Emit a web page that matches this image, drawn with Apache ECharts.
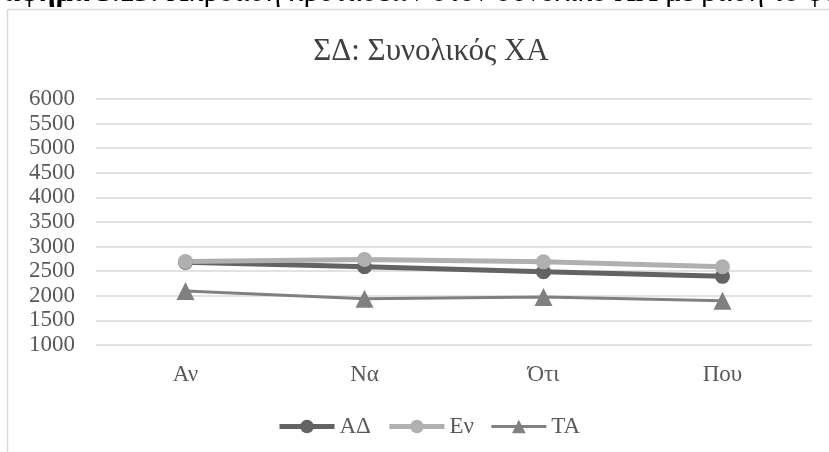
<!DOCTYPE html>
<html>
<head>
<meta charset="utf-8">
<script src="https://cdn.jsdelivr.net/npm/echarts@6/dist/echarts.min.js"></script>
<style>
  html, body { margin: 0; padding: 0; background: #fff; }
  #chart { width: 829px; height: 452px; }
</style>
</head>
<body>
<div id="chart"></div>
<script>
// categories and values
const categories = ["Αν", "Να", "Ότι", "Που"];
const seriesNames = ["ΑΔ", "Εν", "ΤΑ"];
const valuesAD = [2680, 2590, 2490, 2395];
const valuesEn = [2695, 2740, 2690, 2590];
const valuesTA = [2100, 1940, 1975, 1900];
const yTicks = { min: 1000, max: 6000, step: 500 };

const serif = "'Liberation Serif', 'DejaVu Serif', serif";
const labelGray = "#595959";
const colors = ["#636363", "#b0b0b0", "#808080"];
const widths = [5, 5, 3];

const chart = echarts.init(document.getElementById("chart"));

function lineSeries(i, data, symbol, size) {
    return {
        name: seriesNames[i],
        type: "line",
        data: data,
        symbol: symbol,
        symbolSize: size,
        lineStyle: { color: colors[i], width: widths[i] },
        itemStyle: { color: colors[i] },
        emphasis: { disabled: true }
    };
}

chart.setOption({
    animation: false,
    title: {
        text: "ΣΔ: Συνολικός ΧΑ",
        left: 426,
        textAlign: "center",
        top: 31,
        textStyle: { fontFamily: serif, fontSize: 31, fontWeight: "normal", color: "#404040" }
    },
    grid: { left: 96, right: 17, top: 99, bottom: 107 },
    xAxis: {
        type: "category",
        data: categories,
        boundaryGap: true,
        axisLine: { show: false },
        axisTick: { show: false },
        axisLabel: { margin: 18, fontFamily: serif, fontSize: 23, color: labelGray }
    },
    yAxis: {
        type: "value",
        min: yTicks.min,
        max: yTicks.max,
        interval: yTicks.step,
        axisLine: { show: false },
        axisTick: { show: false },
        axisLabel: { margin: 21, fontFamily: serif, fontSize: 23, color: labelGray,
                     formatter: v => String(v) },
        splitLine: { lineStyle: { color: "#d9d9d9", width: 1.5 } }
    },
    legend: {
        bottom: 14,
        left: 277,
        padding: 0,
        itemWidth: 55,
        itemHeight: 17,
        itemGap: 16,
        textStyle: { fontFamily: serif, fontSize: 23, color: labelGray },
        data: seriesNames.map((n, i) => ({ name: n, lineStyle: { width: widths[i] } }))
    },
    series: [
        lineSeries(0, valuesAD, "circle", 15),
        lineSeries(1, valuesEn, "circle", 15),
        lineSeries(2, valuesTA, "triangle", 18)
    ],
    graphic: [
        // the chart frame (left and top edges visible)
        { type: "line", silent: true, shape: { x1: 7.5, y1: 9.5, x2: 7.5, y2: 452 },
          style: { stroke: "#d9d9d9", lineWidth: 1.5 } },
        { type: "line", silent: true, shape: { x1: 7.5, y1: 9.5, x2: 829, y2: 9.5 },
          style: { stroke: "#d9d9d9", lineWidth: 1.5 } },
        // caption cut off at the top of the picture
        { type: "text", silent: true, x: -32, y: -22,
          style: {
              text: "{b|Γράφημα 5.13:} {r|Ακρόαση προτάσεων στον συνολικό ΧΑ με βάση το φύλο}",
              fontFamily: serif, fontSize: 30, fill: "#000",
              rich: {
                  b: { fontWeight: "bold", fontFamily: serif, fontSize: 30, fill: "#000" },
                  r: { fontFamily: serif, fontSize: 30, fill: "#000" }
              }
          } }
    ]
});
</script>
</body>
</html>
